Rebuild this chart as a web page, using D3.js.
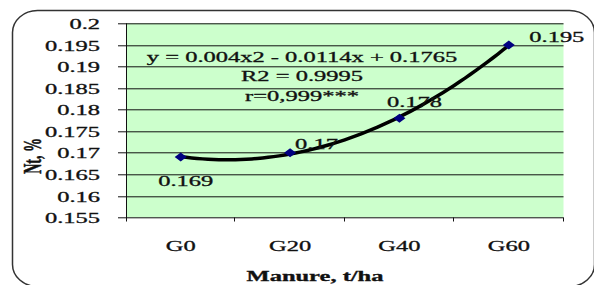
<!DOCTYPE html>
<html>
<head>
<meta charset="utf-8">
<script src="https://cdn.jsdelivr.net/npm/d3@7"></script>
<style>
  body { margin: 0; background: #fff; }
  svg { display: block; font-family: "Liberation Serif", "Times New Roman", serif; }
  svg text { stroke: #111; stroke-width: 0.3px; }
</style>
</head>
<body>
<svg id="drawing"></svg>
<script>
// data
const categories = ["G0", "G20", "G40", "G60"];
const ntValues = [0.169, 0.17, 0.178, 0.195];
const pointLabels = ["0.169", "0.17", "0.178", "0.195"];
const yTicks = [0.155, 0.16, 0.165, 0.17, 0.175, 0.18, 0.185, 0.19, 0.195, 0.2];
const trendCoef = [0.004, -0.0114, 0.1765];   // y = a x^2 + b x + c  (x = 1..4)
const trendText = ["y = 0.004x2 - 0.0114x + 0.1765", "R2 = 0.9995", "r=0,999***"];

const config = {
    width: 594,
    height: 285,
    margin: {top: 23.3, right: 30.5, bottom: 67.5, left: 126}
};
const SX = 1.75;   // the picture is stretched sideways, text too

const svg = d3.select('#drawing')
    .attr('width', config.width)
    .attr('height', config.height);

// frame, with a bit of shadow at the bottom right
svg.append('rect')
    .attr('x', 14.5).attr('y', 12.5)
    .attr('width', 579).attr('height', 272)
    .attr('rx', 25).attr('ry', 22)
    .attr('fill', '#111');
svg.append('rect')
    .attr('x', 12.5).attr('y', 10.5)
    .attr('width', 582).attr('height', 276)
    .attr('rx', 25).attr('ry', 22)
    .attr('fill', '#fff')
    .attr('stroke', '#333')
    .attr('stroke-width', 1.5);

const inner_width = config.width - config.margin.left - config.margin.right;
const inner_height = config.height - config.margin.top - config.margin.bottom;

const chart = svg.append('g')
    .attr('transform', `translate(${config.margin.left}, ${config.margin.top})`);

const xscale = d3.scaleBand()
    .domain(categories)
    .range([0, inner_width]);

// continuous x (category index 1..4) for the trend line
const xlin = d3.scaleLinear()
    .domain([0.5, categories.length + 0.5])
    .range([0, inner_width]);

const yscale = d3.scaleLinear()
    .domain([d3.min(yTicks), d3.max(yTicks)])
    .range([inner_height, 0]);

const xmid = c => xscale(c) + xscale.bandwidth() / 2;

chart.append('rect')
    .attr('width', inner_width)
    .attr('height', inner_height)
    .attr('fill', '#ccffcc');

// grid lines
chart.append('g').selectAll('line')
    .data(yTicks)
    .enter()
    .append('line')
    .attr('x1', 0).attr('x2', inner_width)
    .attr('y1', d => Math.round(yscale(d)) + 0.5)
    .attr('y2', d => Math.round(yscale(d)) + 0.5)
    .attr('stroke', '#111')
    .attr('stroke-width', 1);

// y axis
const yaxis = d3.axisLeft(yscale)
    .tickValues(yTicks)
    .tickFormat(d => String(+d.toFixed(3)))
    .tickSize(8)
    .tickSizeOuter(0);

const yaxis_group = chart.append('g').call(yaxis);
yaxis_group.select('.domain').remove();
yaxis_group.selectAll('.tick line').attr('stroke', '#111');
yaxis_group.selectAll('.tick').attr('transform', d => `translate(0, ${Math.round(yscale(d)) + 0.5})`);
yaxis_group.selectAll('.tick text')
    .attr('x', -26 / SX)
    .attr('dy', '0.35em')
    .attr('transform', `scale(${SX}, 1)`)
    .attr('font-family', '"Liberation Serif", serif')
    .attr('font-size', '14px')
    .attr('fill', '#111');

chart.append('line')
    .attr('x1', 0.5).attr('x2', 0.5)
    .attr('y1', 0).attr('y2', inner_height + 4)
    .attr('stroke', '#111');

// x axis: labels at band centres, tick marks at band edges
const xaxis = d3.axisBottom(xscale).tickSize(0).tickSizeOuter(0);
const xaxis_group = chart.append('g')
    .attr('transform', `translate(0, ${inner_height})`)
    .call(xaxis);
xaxis_group.select('.domain').remove();
xaxis_group.selectAll('.tick text')
    .attr('x', 0)
    .attr('y', 29)
    .attr('dy', '0.35em')
    .attr('transform', `scale(${SX}, 1)`)
    .attr('font-family', '"Liberation Serif", serif')
    .attr('font-size', '14px')
    .attr('fill', '#111');

chart.append('g').selectAll('line')
    .data(categories)
    .enter()
    .append('line')
    .attr('x1', d => Math.round(xscale(d) + xscale.bandwidth()) - 0.5)
    .attr('x2', d => Math.round(xscale(d) + xscale.bandwidth()) - 0.5)
    .attr('y1', inner_height)
    .attr('y2', inner_height + 4)
    .attr('stroke', '#111');

// trend line
const trend = d3.range(1, 4.0001, 0.05).map(x => [x, trendCoef[0] * x * x + trendCoef[1] * x + trendCoef[2]]);
chart.append('path')
    .datum(trend)
    .attr('d', d3.line().x(d => xlin(d[0])).y(d => yscale(d[1])).curve(d3.curveBasis))
    .attr('fill', 'none')
    .attr('stroke', '#000')
    .attr('stroke-width', 3.5);

// markers
chart.append('g').selectAll('path')
    .data(ntValues)
    .enter()
    .append('path')
    .attr('transform', (d, i) => `translate(${xmid(categories[i])}, ${yscale(d)})`)
    .attr('d', 'M-6,0L0,-4.5L6,0L0,4.5Z')
    .attr('fill', '#000080');

// point labels
const labelShift = [[5, 24.5, 'middle'], [5, -9, 'start'], [15, -16, 'middle'], [48, -8, 'middle']];
chart.append('g').selectAll('g')
    .data(ntValues)
    .enter()
    .append('g')
    .attr('transform', (d, i) => `translate(${xmid(categories[i]) + labelShift[i][0]}, ${yscale(d) + labelShift[i][1]}) scale(${SX}, 1)`)
    .append('text')
    .attr('dy', '0.35em')
    .attr('text-anchor', (d, i) => labelShift[i][2])
    .attr('font-size', '14px')
    .attr('fill', '#111')
    .text((d, i) => pointLabels[i]);

// equation block
svg.append('g').selectAll('g')
    .data(trendText)
    .enter()
    .append('g')
    .attr('transform', (d, i) => `translate(302, ${57 + i * 19.5}) scale(${SX}, 1)`)
    .append('text')
    .attr('dy', '0.35em')
    .attr('text-anchor', 'middle')
    .attr('font-size', '14px')
    .attr('fill', '#111')
    .text(d => d);

// axis titles
svg.append('g')
    .attr('transform', `translate(315, 276) scale(${SX}, 1)`)
    .append('text')
    .attr('dy', '0.35em')
    .attr('text-anchor', 'middle')
    .attr('font-size', '14px')
    .attr('font-weight', 'bold')
    .attr('fill', '#111')
    .text('Manure, t/ha');

svg.append('g')
    .attr('transform', `translate(32, 156) scale(${SX}, 1) rotate(-90)`)
    .append('text')
    .attr('dy', '0.35em')
    .attr('text-anchor', 'middle')
    .attr('font-size', '14px')
    .attr('font-weight', 'bold')
    .attr('fill', '#111')
    .text('Nt, %');
</script>
</body>
</html>
